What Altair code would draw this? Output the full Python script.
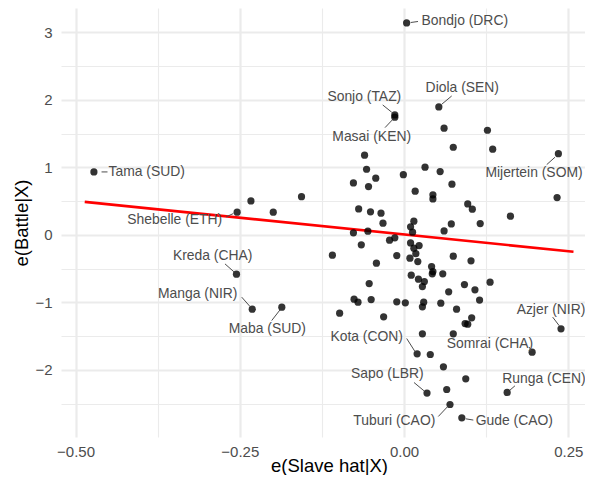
import altair as alt
import pandas as pd

# ---- scatter points (residuals) ----
pt_x = [-0.472, -0.254, -0.233, -0.199, -0.156, 0.004, 0.053, -0.014, -0.014, 0.061,
        0.127, 0.075, 0.135, 0.235, -0.060, -0.057, -0.043, -0.077, -0.054, -0.001,
        0.032, 0.055, 0.073, 0.017, 0.044, 0.044, 0.097, 0.104, 0.162, 0.233,
        -0.069, -0.051, -0.035, -0.032, 0.015, 0.010, 0.013, 0.072, 0.116, 0.061,
        -0.077, -0.055, -0.065, -0.022, -0.014, 0.010, 0.015, 0.023, 0.018, -0.109,
        -0.011, 0.009, 0.075, 0.102, 0.021, -0.042, 0.042, 0.044, 0.043, 0.059,
        0.011, 0.022, 0.031, 0.028, -0.053, 0.068, 0.092, 0.108, 0.131, 0.115,
        -0.076, -0.070, -0.050, -0.011, 0.002, 0.030, 0.028, 0.056, 0.080, -0.098,
        -0.031, 0.103, 0.097, 0.093, 0.028, 0.075, 0.020, 0.040, 0.195, 0.239,
        0.060, 0.094, 0.035, 0.065, 0.157, 0.070, 0.088, -0.255, -0.231, -0.186]
pt_y = [0.933, 0.336, 0.504, 0.336, 0.567, 3.141, 1.896, 1.778, 1.744, 1.581,
        1.551, 1.299, 1.270, 1.204, 1.181, 0.973, 0.840, 0.770, 0.716, 0.893,
        1.003, 0.938, 0.751, 0.647, 0.593, 0.533, 0.459, 0.381, 0.277, 0.553,
        0.385, 0.341, 0.321, 0.173, 0.203, 0.119, 0.040, 0.163, 0.167, 0.059,
        0.030, 0.055, -0.148, -0.079, -0.044, -0.119, -0.197, -0.159, -0.277, -0.301,
        -0.307, -0.345, -0.316, -0.385, -0.396, -0.419, -0.470, -0.544, -0.578, -0.578,
        -0.597, -0.656, -0.692, -0.766, -0.721, -0.844, -0.736, -0.815, -0.701, -0.967,
        -0.953, -0.997, -0.959, -0.993, -1.007, -0.997, -1.067, -1.012, -1.101, -1.160,
        -1.215, -1.230, -1.323, -1.314, -1.467, -1.467, -1.763, -1.773, -1.738, -1.393,
        -1.956, -2.133, -2.345, -2.292, -2.336, -2.514, -2.711, -0.582, -1.101, -1.071]

# ---- fitted line ----
line_x = [-0.486, 0.258]
line_y = [0.49, -0.25]

# ---- labels (text centre) ----
lab_name = ["Tama (SUD)", "Shebelle (ETH)", "Bondjo (DRC)", "Diola (SEN)", "Sonjo (TAZ)",
            "Masai (KEN)", "Mijertein (SOM)", "Kreda (CHA)", "Manga (NIR)", "Maba (SUD)",
            "Kota (CON)", "Somrai (CHA)", "Azjer (NIR)", "Sapo (LBR)", "Runga (CEN)",
            "Tuburi (CAO)", "Gude (CAO)"]
lab_x = [-0.3916, -0.349, 0.0926, 0.0887, -0.0604,
         -0.0492, 0.1979, -0.2912, -0.314, -0.208,
         -0.0568, 0.1309, 0.2237, -0.0254, 0.2131,
         -0.0148, 0.168]
lab_y = [0.933, 0.222, 3.166, 2.173, 2.049,
         1.456, 0.914, -0.307, -0.874, -1.393,
         -1.507, -1.619, -1.111, -2.059, -2.133,
         -2.756, -2.756]

# ---- leader segments ----
seg_x = [-0.4604, -0.2709, 0.0102, 0.0726, -0.0324, -0.0289, 0.2172, -0.2725, -0.2470,
         -0.2014, 0.0041, 0.1907, 0.2263, 0.0152, 0.1613, 0.0522, 0.0939]
seg_y = [0.933, 0.267, 3.148, 2.059, 1.926, 1.590, 1.041, -0.430, -0.923,
         -1.270, -1.536, -1.664, -1.219, -2.188, -2.301, -2.692, -2.726]
seg_x2 = [-0.4513, -0.2598, 0.0213, 0.0574, -0.0187, -0.0178, 0.2298, -0.2588, -0.2344,
          -0.1887, 0.0167, 0.1933, 0.2364, 0.0304, 0.1689, 0.0665, 0.1055]
seg_y2 = [0.933, 0.316, 3.163, 1.936, 1.818, 1.704, 1.151, -0.548, -1.062,
          -1.111, -1.729, -1.714, -1.348, -2.311, -2.237, -2.544, -2.745]

x_ticks = [-0.5, -0.375, -0.25, -0.125, 0.0, 0.125, 0.25]
y_ticks = [-3, -2.5, -2, -1.5, -1, -0.5, 0, 0.5, 1, 1.5, 2, 2.5, 3]

FONT = "Liberation Sans"

xs = alt.Scale(domain=[-0.5221, 0.2755], nice=False, zero=False)
ys = alt.Scale(domain=[-2.996, 3.363], nice=False, zero=False)

xaxis = alt.Axis(
    title="e(Slave hat|X)", values=x_ticks, format=".2f",
    labelExpr="abs(datum.value*4 - round(datum.value*4)) < 0.001 ? datum.label : ''",
    grid=True, gridColor="#EBEBEB",
    gridWidth={"condition": {"test": "abs(datum.value*4 - round(datum.value*4)) < 0.001", "value": 2.2}, "value": 1.1},
    ticks=False, tickSize=0, domain=False, labelPadding=7, labelOverlap=False,
    labelFont=FONT, labelFontSize=15, labelColor="#4D4D4D",
    titleFont=FONT, titleFontSize=18.5, titleFontWeight="normal", titleColor="#000000",
    titleX=268, titleY=34, titleBaseline="alphabetic", titleAlign="center",
)
yaxis = alt.Axis(
    title="e(Battle|X)", values=y_ticks, format=".0f",
    labelExpr="abs(datum.value - round(datum.value)) < 0.001 ? datum.label : ''",
    grid=True, gridColor="#EBEBEB",
    gridWidth={"condition": {"test": "abs(datum.value - round(datum.value)) < 0.001", "value": 2.2}, "value": 1.1},
    ticks=False, tickSize=0, domain=False, labelPadding=9, labelOverlap=False,
    labelFont=FONT, labelFontSize=15, labelColor="#4D4D4D",
    titleFont=FONT, titleFontSize=18.5, titleFontWeight="normal", titleColor="#000000",
    titleX=-34, titleY=214.5, titleBaseline="alphabetic", titleAngle=270, titleAlign="center",
)


def X(f):
    return alt.X(f, type="quantitative", scale=xs, axis=xaxis)


def Y(f):
    return alt.Y(f, type="quantitative", scale=ys, axis=yaxis)


pts = pd.DataFrame({"x": pt_x, "y": pt_y})
line_df = pd.DataFrame({"x": line_x, "y": line_y})
lab_df = pd.DataFrame({"x": lab_x, "y": lab_y, "name": lab_name})
seg_df = pd.DataFrame({"x": seg_x, "y": seg_y, "x2": seg_x2, "y2": seg_y2})

line = alt.Chart(line_df).mark_line(color="#FF0000", strokeWidth=2.7).encode(x=X("x"), y=Y("y"))
points = alt.Chart(pts).mark_circle(color="#000000", opacity=0.8, size=52).encode(x=X("x"), y=Y("y"))
segs = alt.Chart(seg_df).mark_rule(color="#4D4D4D", strokeWidth=1).encode(
    x=X("x"), y=Y("y"), x2="x2:Q", y2="y2:Q")
labels = alt.Chart(lab_df).mark_text(
    align="center", baseline="middle", font=FONT, fontSize=13.9, color="#4D4D4D"
).encode(x=X("x"), y=Y("y"), text="name:N")

chart = alt.layer(line, points, segs, labels).properties(
    width=524, height=429,
    autosize=alt.AutoSizeParams(type="none"),
    padding={"left": 53, "top": 0, "right": 0, "bottom": 38},
    background="#FFFFFF",
).configure_view(stroke=None)

chart.save("out.html", embed_options={"renderer": "svg", "actions": False})
